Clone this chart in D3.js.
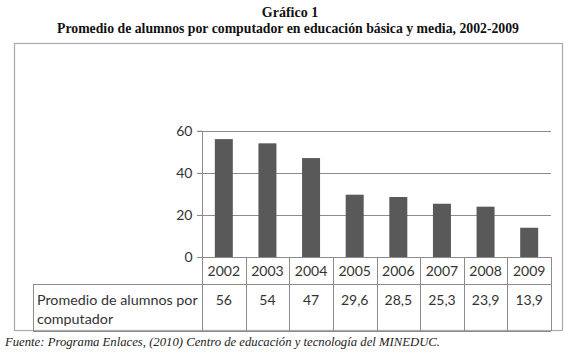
<!DOCTYPE html>
<html><head><meta charset="utf-8">
<script src="https://cdn.jsdelivr.net/npm/d3@7"></script>
<style>
body{margin:0;background:#fff;}
svg{display:block;}
</style></head>
<body>
<svg id="chart" width="580" height="354"></svg>
<script>
const titleLine1 = "Gráfico 1";
const titleLine2 = "Promedio de alumnos por computador en educación básica y media, 2002-2009";
const years = ["2002","2003","2004","2005","2006","2007","2008","2009"];
const values = [56, 54, 47, 29.6, 28.5, 25.3, 23.9, 13.9];
const valueLabels = ["56","54","47","29,6","28,5","25,3","23,9","13,9"];
const yTicks = [0, 20, 40, 60];
const rowLabel = ["Promedio de alumnos por", "computador"];
const source = "Fuente: Programa Enlaces, (2010) Centro de educación y tecnología del MINEDUC.";

const svg = d3.select("#chart");
const sans = "Lato, 'Open Sans', sans-serif";
const serif = "'Liberation Serif', 'Times New Roman', serif";

// titles
svg.append("text").attr("x", 290).attr("y", 17).attr("text-anchor","middle")
  .attr("font-family", serif).attr("font-weight","bold").attr("font-size", 14)
  .attr("fill","#111").text(titleLine1);
svg.append("text").attr("x", 288).attr("y", 33).attr("text-anchor","middle")
  .attr("font-family", serif).attr("font-weight","bold").attr("font-size", 14)
  .attr("textLength", 462).attr("lengthAdjust","spacingAndGlyphs")
  .attr("fill","#111").text(titleLine2);

// outer frame
svg.append("rect").attr("x", 14.5).attr("y", 43.5).attr("width", 548).attr("height", 287)
  .attr("fill","none").attr("stroke","#aaa").attr("stroke-width",1.2);

const x0 = 202, x1 = 551, yTop = 130.7, yBase = 257;
const x = d3.scaleBand().domain(years).range([x0, x1]).paddingInner(0).paddingOuter(0);
const y = d3.scaleLinear().domain([0, 60]).range([yBase, yTop]);

// gridlines
svg.append("g").selectAll("line").data(yTicks.filter(t=>t>0)).join("line")
  .attr("x1", x0 - 5).attr("x2", x1)
  .attr("y1", d=>Math.round(y(d))+0.5).attr("y2", d=>Math.round(y(d))+0.5)
  .attr("stroke","#8c8c8c").attr("stroke-width",1);

// y axis
const yAxis = d3.axisLeft(y).tickValues(yTicks).tickSize(5).tickPadding(5);
const gy = svg.append("g").attr("transform", `translate(${x0 + 0.5},0)`).call(yAxis);
gy.select(".domain").attr("stroke","#8c8c8c").attr("d", `M0,${Math.round(yTop)+0.5}V${yBase}`);
gy.selectAll(".tick line").attr("stroke","#8c8c8c");
gy.selectAll(".tick text").attr("font-family", sans).attr("font-size", 14)
  .attr("fill","#333");

// bars
const bw = 18;
svg.append("g").selectAll("rect").data(values).join("rect")
  .attr("x", (d,i)=> x(years[i]) + x.bandwidth()/2 - bw/2)
  .attr("width", bw)
  .attr("y", d=>y(d))
  .attr("height", d=> yBase - y(d))
  .attr("fill","#595959");

// table
const rowTop1 = 257, rowTop2 = 284, rowBottom = 331, tableLeft = 33;
const tg = svg.append("g").attr("stroke","#8c8c8c").attr("stroke-width",1).attr("fill","none");
tg.append("line").attr("x1", x0 - 5).attr("x2", x1).attr("y1", rowTop1 + 0.5).attr("y2", rowTop1 + 0.5);
tg.append("line").attr("x1", tableLeft).attr("x2", x1).attr("y1", rowTop2 + 0.5).attr("y2", rowTop2 + 0.5);
tg.append("line").attr("x1", tableLeft).attr("x2", x1).attr("y1", rowBottom + 0.5).attr("y2", rowBottom + 0.5);
tg.append("line").attr("x1", tableLeft + 0.5).attr("x2", tableLeft + 0.5).attr("y1", rowTop2).attr("y2", rowBottom);
const bounds = years.map(yr => x(yr)).concat([x1]);
tg.selectAll(".vb").data(bounds).join("line")
  .attr("x1", d=>Math.round(d)+0.5).attr("x2", d=>Math.round(d)+0.5)
  .attr("y1", rowTop1).attr("y2", rowBottom);

// year labels
svg.append("g").selectAll("text").data(years).join("text")
  .attr("x", d=> x(d) + x.bandwidth()/2).attr("y", 276)
  .attr("text-anchor","middle").attr("font-family", sans).attr("font-size", 14)
  .attr("fill","#333").text(d=>d);

// value labels
svg.append("g").selectAll("text").data(valueLabels).join("text")
  .attr("x", (d,i)=> x(years[i]) + x.bandwidth()/2).attr("y", 305)
  .attr("text-anchor","middle").attr("font-family", sans).attr("font-size", 14)
  .attr("fill","#333").text(d=>d);

// row label
svg.append("g").selectAll("text").data(rowLabel).join("text")
  .attr("x", 37).attr("y", (d,i)=> 305 + i*19)
  .attr("font-family", sans).attr("font-size", 14.3)
  .attr("fill","#333").text(d=>d);

// source
svg.append("text").attr("x", 5).attr("y", 346)
  .attr("font-family", serif).attr("font-style","italic").attr("font-size", 12.5)
  .attr("textLength", 435).attr("lengthAdjust","spacingAndGlyphs")
  .attr("fill","#222").text(source);
</script>
</body></html>
